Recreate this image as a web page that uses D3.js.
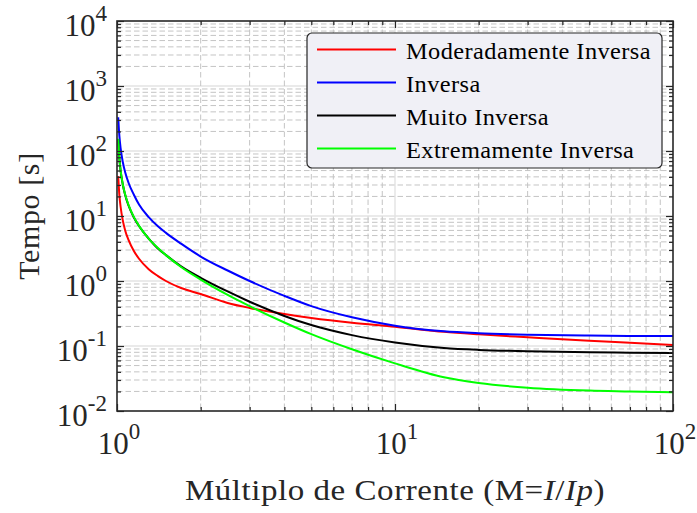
<!DOCTYPE html>
<html>
<head>
<meta charset="utf-8">
<script src="https://cdn.jsdelivr.net/npm/d3@7"></script>
<style>
  html, body { margin: 0; padding: 0; background: #fff; }
  svg { display: block; }
</style>
</head>
<body>
<svg id="chart" width="697" height="513"></svg>
<script>
// Current multiple M = I/Ip sampled along the curves
const multiples = [1.01, 1.02, 1.03, 1.05, 1.07, 1.1, 1.15, 1.2, 1.3, 1.4, 1.5, 1.7, 2, 2.5, 3, 4, 5, 7, 10, 15, 20, 30, 50, 70, 100];

// Operating time [s] for each relay curve
const moderadamenteInversa = [41, 20.8, 14, 8.4, 6.0, 4.3, 2.9, 2.2, 1.52, 1.2, 1.0, 0.78, 0.63, 0.46, 0.385, 0.31, 0.27, 0.228, 0.198, 0.165, 0.151, 0.136, 0.12, 0.112, 0.104];
const inversa = [330, 169, 112, 66.5, 47, 32.5, 21.2, 15.0, 9.6, 7.0, 5.5, 3.75, 2.38, 1.45, 1.0, 0.59, 0.41, 0.276, 0.205, 0.168, 0.157, 0.149, 0.1445, 0.143, 0.142];
const muitoInversa = [150, 76, 50, 30, 21, 14.5, 9.5, 7.0, 4.5, 3.2, 2.5, 1.68, 1.12, 0.69, 0.48, 0.29, 0.21, 0.147, 0.113, 0.093, 0.087, 0.083, 0.080, 0.079, 0.078];
const extremamenteInversa = [154, 77, 51, 30.2, 21.4, 14.8, 9.6, 7.05, 4.5, 3.25, 2.5, 1.64, 1.05, 0.61, 0.41, 0.23, 0.152, 0.089, 0.054, 0.033, 0.027, 0.0228, 0.0206, 0.0200, 0.0194];

const seriesNames = ["Moderadamente Inversa", "Inversa", "Muito Inversa", "Extremamente Inversa"];
const seriesColors = ["#ff0000", "#0000ff", "#000000", "#00ff00"];
const seriesValues = [moderadamenteInversa, inversa, muitoInversa, extremamenteInversa];

// Axis decades (tick label exponents)
const xExponents = [0, 1, 2];
const yExponents = [-2, -1, 0, 1, 2, 3, 4];

const xTitle = "Múltiplo de Corrente";
const yTitle = "Tempo [s]";

const fontFamily = "'Liberation Serif', 'Times New Roman', serif";
const plot = { left: 117, right: 673, top: 21, bottom: 411 };

const svg = d3.select("#chart");

const x = d3.scaleLog().domain([1, 100]).range([plot.left, plot.right]);
const y = d3.scaleLog().domain([0.01, 10000]).range([plot.bottom, plot.top]);

// Minor (2..9) and major decade positions
function minorValues(lo, hi) {
  const out = [];
  for (let e = lo; e < hi; e++) {
    for (let k = 2; k <= 9; k++) out.push(k * Math.pow(10, e));
  }
  return out;
}
const xMajor = xExponents.map(e => Math.pow(10, e));
const yMajor = yExponents.map(e => Math.pow(10, e));
const xMinor = minorValues(0, 2);
const yMinor = minorValues(-2, 4);

// Grid
const grid = svg.append("g");
grid.selectAll(".gmx").data(xMajor.slice(1, -1)).join("line")
  .attr("x1", d => x(d)).attr("x2", d => x(d))
  .attr("y1", plot.top).attr("y2", plot.bottom)
  .attr("stroke", "#e3e3e3").attr("stroke-width", 1.4);
grid.selectAll(".gmy").data(yMajor.slice(1, -1)).join("line")
  .attr("x1", plot.left).attr("x2", plot.right)
  .attr("y1", d => y(d)).attr("y2", d => y(d))
  .attr("stroke", "#e3e3e3").attr("stroke-width", 1.4);
grid.selectAll(".gnx").data(xMinor).join("line")
  .attr("x1", d => x(d)).attr("x2", d => x(d))
  .attr("y1", plot.top).attr("y2", plot.bottom)
  .attr("stroke", "#c4c4c4").attr("stroke-width", 1)
  .attr("stroke-dasharray", "5.5,3");
grid.selectAll(".gny").data(yMinor).join("line")
  .attr("x1", plot.left).attr("x2", plot.right)
  .attr("y1", d => y(d)).attr("y2", d => y(d))
  .attr("stroke", "#c4c4c4").attr("stroke-width", 1)
  .attr("stroke-dasharray", "5.5,3");

// Curves
svg.append("clipPath").attr("id", "plotClip").append("rect")
  .attr("x", plot.left).attr("y", plot.top)
  .attr("width", plot.right - plot.left).attr("height", plot.bottom - plot.top);

const line = d3.line()
  .x(d => x(d[0]))
  .y(d => y(d[1]))
  .curve(d3.curveMonotoneX);

svg.append("g").attr("clip-path", "url(#plotClip)")
  .selectAll("path").data(seriesValues).join("path")
  .attr("d", vals => line(multiples.map((m, i) => [m, vals[i]])))
  .attr("fill", "none")
  .attr("stroke", (d, i) => seriesColors[i])
  .attr("stroke-width", 2)
  .attr("stroke-linejoin", "round");

// Axes (box with inward ticks on all four sides)
const axisColor = "#262626";
function styleAxis(g) {
  g.select(".domain").remove();
  g.selectAll(".tick line").attr("stroke", axisColor).attr("stroke-width", 1.2);
  g.selectAll(".tick text").remove();
}
const major = 7, minor = 4;
svg.append("g").attr("transform", `translate(0,${plot.bottom})`)
  .call(d3.axisTop(x).tickValues(xMajor).tickSize(major).tickFormat("")).call(styleAxis);
svg.append("g").attr("transform", `translate(0,${plot.bottom})`)
  .call(d3.axisTop(x).tickValues(xMinor).tickSize(minor).tickFormat("")).call(styleAxis);
svg.append("g").attr("transform", `translate(0,${plot.top})`)
  .call(d3.axisBottom(x).tickValues(xMajor).tickSize(major).tickFormat("")).call(styleAxis);
svg.append("g").attr("transform", `translate(0,${plot.top})`)
  .call(d3.axisBottom(x).tickValues(xMinor).tickSize(minor).tickFormat("")).call(styleAxis);
svg.append("g").attr("transform", `translate(${plot.left},0)`)
  .call(d3.axisRight(y).tickValues(yMajor).tickSize(major).tickFormat("")).call(styleAxis);
svg.append("g").attr("transform", `translate(${plot.left},0)`)
  .call(d3.axisRight(y).tickValues(yMinor).tickSize(minor).tickFormat("")).call(styleAxis);
svg.append("g").attr("transform", `translate(${plot.right},0)`)
  .call(d3.axisLeft(y).tickValues(yMajor).tickSize(major).tickFormat("")).call(styleAxis);
svg.append("g").attr("transform", `translate(${plot.right},0)`)
  .call(d3.axisLeft(y).tickValues(yMinor).tickSize(minor).tickFormat("")).call(styleAxis);

svg.append("rect")
  .attr("x", plot.left).attr("y", plot.top)
  .attr("width", plot.right - plot.left).attr("height", plot.bottom - plot.top)
  .attr("fill", "none").attr("stroke", axisColor).attr("stroke-width", 1.6);

// Tick labels as 10^n
const labelColor = "#262626";
function powerLabel(sel, exp) {
  sel.append("tspan").text("10");
  sel.append("tspan").attr("font-size", 23).attr("dy", -15).text(exp);
}
svg.append("g").selectAll("text").data(yExponents).join("text")
  .attr("x", plot.left - 10)
  .attr("y", e => y(Math.pow(10, e)) + 15)
  .attr("text-anchor", "end")
  .attr("font-family", fontFamily).attr("font-size", 31).attr("fill", labelColor)
  .each(function (e) { powerLabel(d3.select(this), e); });

svg.append("g").selectAll("text").data(xExponents).join("text")
  .attr("x", e => x(Math.pow(10, e)) + 2)
  .attr("y", plot.bottom + 43)
  .attr("text-anchor", "middle")
  .attr("font-family", fontFamily).attr("font-size", 31).attr("fill", labelColor)
  .each(function (e) { powerLabel(d3.select(this), e); });

// Axis titles
const xt = svg.append("text")
  .attr("transform", `translate(${(plot.left + plot.right) / 2},500) scale(1.1,1)`)
  .attr("text-anchor", "middle")
  .attr("font-family", fontFamily).attr("font-size", 30).attr("fill", labelColor)
  .attr("letter-spacing", 0.5);
xt.append("tspan").text(xTitle + " (M=");
xt.append("tspan").attr("font-style", "italic").text("I");
xt.append("tspan").text("/");
xt.append("tspan").attr("font-style", "italic").text("Ip");
xt.append("tspan").text(")");

svg.append("text")
  .attr("transform", `translate(39,${(plot.top + plot.bottom) / 2}) rotate(-90)`)
  .attr("text-anchor", "middle")
  .attr("font-family", fontFamily).attr("font-size", 30).attr("fill", labelColor)
  .attr("letter-spacing", 0.6)
  .text(yTitle);

// Legend
const legend = svg.append("g");
legend.append("rect")
  .attr("x", 307).attr("y", 33).attr("width", 355).attr("height", 135)
  .attr("rx", 5).attr("ry", 5)
  .attr("fill", "#f0f0f6").attr("stroke", axisColor).attr("stroke-width", 1.2);
const rows = legend.selectAll("g").data(seriesNames).join("g")
  .attr("transform", (d, i) => `translate(0,${49.5 + i * 33})`);
rows.append("line")
  .attr("x1", 317).attr("x2", 396).attr("y1", 0).attr("y2", 0)
  .attr("stroke", (d, i) => seriesColors[i]).attr("stroke-width", 2);
rows.append("text")
  .attr("transform", "translate(406,9.5) scale(1.06,1)")
  .attr("font-family", fontFamily).attr("font-size", 23).attr("fill", "#000")
  .attr("letter-spacing", 0.4)
  .text(d => d);
</script>
</body>
</html>
